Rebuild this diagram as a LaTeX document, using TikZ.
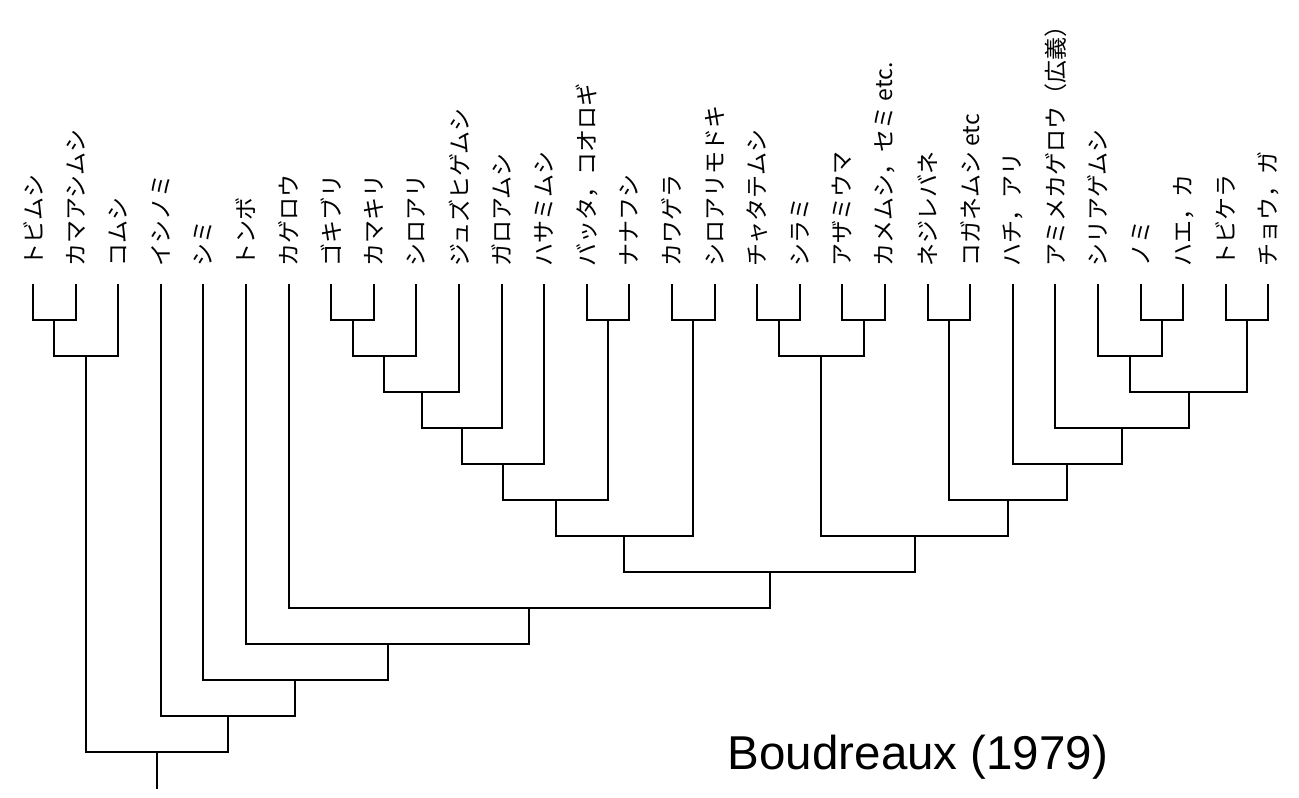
\documentclass[tikz,border=0pt]{standalone}
\usepackage{fontspec}
\usetikzlibrary{calc}
\newfontfamily\jpfont{Noto Sans CJK JP}
\newfontfamily\latinfont{Liberation Sans}
\newcommand{\joinAt}[4]{%
  \path let \p1=(#2), \p2=(#3) in coordinate (#1) at ({0.5*\x1+0.5*\x2}, #4);
  \draw[branch] (#2) |- (#1) -| (#3);}
\begin{document}
\begin{tikzpicture}[x=1pt,y=-1pt,
  branch/.style={line width=2pt, black},
  lab/.style={rotate=90, anchor=west, inner sep=0pt, font=\jpfont\fontsize{23}{28}\selectfont},
  title/.style={inner sep=0pt, anchor=base, font=\latinfont\fontsize{47.5}{56}\selectfont}]
\useasboundingbox (0,0) rectangle (1299,798);
\foreach \i/\txt in {0/トビムシ, 1/カマアシムシ, 2/コムシ, 3/イシノミ, 4/シミ, 5/トンボ,
  6/カゲロウ, 7/ゴキブリ, 8/カマキリ, 9/シロアリ, 10/ジュズヒゲムシ, 11/ガロアムシ,
  12/ハサミムシ, 13/バッタ，コオロギ, 14/ナナフシ, 15/カワゲラ, 16/シロアリモドキ,
  17/チャタテムシ, 18/シラミ, 19/アザミウマ, 20/カメムシ，セミ etc., 21/ネジレバネ,
  22/コガネムシ etc, 23/{ハチ，アリ}, 24/アミメカゲロウ（広義）, 25/シリアゲムシ,
  26/ノミ, 27/{ハエ，カ}, 28/トビケラ, 29/{チョウ，ガ}}{
  \coordinate (t\i) at ({33+42.6*\i},284);
  \node[lab] (n\i) at ({33+42.6*\i},267) {\txt};
}
% left group
\joinAt{a1}{t0}{t1}{320}
\joinAt{A}{a1}{t2}{356}
% G group
\joinAt{g1}{t7}{t8}{320}
\joinAt{g2}{g1}{t9}{356}
\joinAt{g3}{g2}{t10}{392}
\joinAt{g4}{g3}{t11}{428}
\joinAt{g5}{g4}{t12}{464}
\joinAt{bn}{t13}{t14}{320}
\joinAt{g6}{g5}{bn}{500}
\joinAt{kw}{t15}{t16}{320}
\joinAt{G}{g6}{kw}{536}
% H group
\joinAt{h1}{t17}{t18}{320}
\joinAt{h2}{t19}{t20}{320}
\joinAt{H1}{h1}{h2}{356}
\joinAt{ne}{t21}{t22}{320}
\joinAt{no}{t26}{t27}{320}
\joinAt{s1}{t25}{no}{356}
\joinAt{tc}{t28}{t29}{320}
\joinAt{s2}{s1}{tc}{392}
\joinAt{s3}{t24}{s2}{428}
\joinAt{s4}{t23}{s3}{464}
\joinAt{s5}{ne}{s4}{500}
\joinAt{H}{H1}{s5}{536}
% backbone
\joinAt{F}{G}{H}{572}
\joinAt{E}{t6}{F}{608}
\joinAt{D}{t5}{E}{644}
\joinAt{C}{t4}{D}{680}
\joinAt{B}{t3}{C}{716}
\joinAt{R}{A}{B}{752}
\coordinate (root) at (R |- 0,789);
\draw[branch] (R) -- (root);
\node[title] (cite) at (918,769) {Boudreaux (1979)};
\end{tikzpicture}
\end{document}
